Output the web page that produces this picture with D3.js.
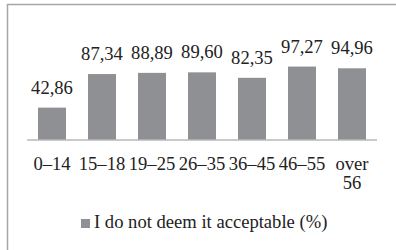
<!DOCTYPE html>
<html><head><meta charset="utf-8">
<script src="https://cdn.jsdelivr.net/npm/d3@7"></script>
<style>body{margin:0;background:#fff;} svg{display:block;} text{font-family:"Liberation Serif","DejaVu Serif",serif;}</style>
</head><body>
<svg id="c" width="396" height="250"></svg>
<script>
const categories = ["0–14","15–18","19–25","26–35","36–45","46–55","over 56"];
const values = [42.86, 87.34, 88.89, 89.60, 82.35, 97.27, 94.96];
const valueLabels = ["42,86","87,34","88,89","89,60","82,35","97,27","94,96"];
const seriesName = "I do not deem it acceptable (%)";

const svg = d3.select("#c");
const barColor = "#8f9094";
const fs = 18.6;

// frame
svg.append("path").attr("d","M7.5,250 V4.5 H396").attr("fill","none").attr("stroke","#a6a6a6").attr("stroke-width",1.5);

const x = d3.scaleBand().domain(categories).range([27, 377]).paddingInner(0.44).paddingOuter(0.22);
const y = d3.scaleLinear().domain([0, 100]).range([140, 64.5]);

svg.selectAll("rect.bar").data(values).join("rect").attr("class","bar")
  .attr("x",(d,i)=>x(categories[i])).attr("width",x.bandwidth())
  .attr("y",d=>y(d)).attr("height",d=>y(0)-y(d)).attr("fill",barColor);

svg.selectAll("text.vl").data(values).join("text").attr("class","vl")
  .attr("x",(d,i)=>x(categories[i])+x.bandwidth()/2).attr("y",d=>y(d)-14)
  .attr("text-anchor","middle").style("font-size",fs+"px").attr("fill","#222")
  .text((d,i)=>valueLabels[i]);

const axis = d3.axisBottom(x).tickSize(0).tickPadding(0);
const g = svg.append("g").attr("transform","translate(0,140)").call(axis);
g.attr("font-family",null).attr("font-size",null);
g.select(".domain").attr("stroke","#b8b8b8").attr("stroke-width",1.5).attr("d","M27,0H377");
g.selectAll(".tick text").style("font-size",fs+"px").attr("fill","#222")
  .attr("dy",null).attr("y",30)
  .each(function(d){
    const t = d3.select(this);
    const parts = d.split(" ");
    if (parts.length>1){
      t.text(null);
      parts.forEach((p,i)=>t.append("tspan").attr("x",0).attr("y",30+i*19).text(p));
    }
  });

// legend
const lg = svg.append("g");
lg.append("rect").attr("x",81).attr("y",219).attr("width",9).attr("height",9).attr("fill",barColor);
lg.append("text").attr("x",94).attr("y",228).style("font-size",fs+"px").attr("fill","#222").text(seriesName);
</script>
</body></html>
